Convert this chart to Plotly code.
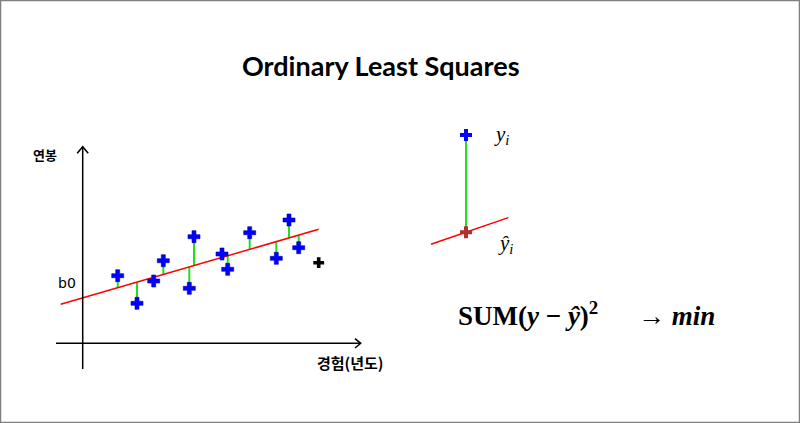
import plotly.graph_objects as go

# ---- data (diagram units: experience on x, salary on y) ----
experience = [3.50, 5.43, 7.10, 8.06, 11.13, 10.66, 13.93, 14.50, 16.70, 19.36, 20.63, 21.60]
salary     = [6.76, 4.00, 6.23, 8.26, 10.66, 5.50, 8.93, 7.40, 11.06, 8.50, 12.33, 9.56]
new_x, new_y = [23.60], [8.06]
b0, b1 = 4.54, 0.2907
line_x = [-2.2, 23.6]

# right-hand illustration of one residual
ex_x = [38.33]
ex_y = [20.83]
ex_line_x = [34.83, 42.56]
ex_b0, ex_b1 = -2.07, 0.344

# axis extents of the left sketch
x_axis_span = [-2.67, 27.8]
y_axis_span = [-2.57, 19.66]

W, H = 800, 423
PX = 10.0                 # pixels per diagram unit
ORIGIN = (82.7, 343.3)    # pixel position of the sketch origin

fig = go.Figure()

def fit(b0_, b1_, xs):
    return [b0_ + b1_ * x for x in xs]

# residual segments (green)
for x, y in zip(experience, salary):
    yh = b0 + b1 * x
    fig.add_trace(go.Scatter(x=[x, x], y=[y, yh], mode="lines",
                             line=dict(color="#22dd22", width=2), hoverinfo="skip"))

# regression line
fig.add_trace(go.Scatter(x=line_x, y=fit(b0, b1, line_x), mode="lines",
                         line=dict(color="#ff0000", width=1.5), hoverinfo="skip"))

# observed points
fig.add_trace(go.Scatter(x=experience, y=salary, mode="markers",
                         marker=dict(symbol="cross", size=10, color="#0000ff",
                                     line=dict(width=0.6, color="#0000aa")),
                         hoverinfo="skip"))
fig.add_trace(go.Scatter(x=new_x, y=new_y, mode="markers",
                         marker=dict(symbol="cross", size=9, color="#000000"),
                         hoverinfo="skip"))

# right illustration
ex_yhat = fit(ex_b0, ex_b1, ex_x)
fig.add_trace(go.Scatter(x=[ex_x[0], ex_x[0]], y=[ex_y[0], ex_yhat[0]], mode="lines",
                         line=dict(color="#22dd22", width=2), hoverinfo="skip"))
fig.add_trace(go.Scatter(x=ex_line_x, y=fit(ex_b0, ex_b1, ex_line_x), mode="lines",
                         line=dict(color="#ff0000", width=1.5), hoverinfo="skip"))
fig.add_trace(go.Scatter(x=ex_x, y=ex_y, mode="markers",
                         marker=dict(symbol="cross", size=10, color="#0000ff"), hoverinfo="skip"))
fig.add_trace(go.Scatter(x=ex_x, y=ex_yhat, mode="markers",
                         marker=dict(symbol="cross", size=10, color="#b03030"), hoverinfo="skip"))

# sketch axes with open arrow heads
ax_style = dict(color="black", width=1.5)
fig.add_shape(type="line", x0=x_axis_span[0], x1=x_axis_span[1], y0=0, y1=0, line=ax_style)
fig.add_shape(type="line", x0=0, x1=0, y0=y_axis_span[0], y1=y_axis_span[1], line=ax_style)
xe, ye = x_axis_span[1], y_axis_span[1]
fig.add_shape(type="path", path=f"M{xe-0.57},{0.47} L{xe},0 L{xe-0.57},{-0.47}", line=ax_style)
fig.add_shape(type="path", path=f"M{-0.55},{ye-0.66} L0,{ye} L{0.55},{ye-0.66}", line=ax_style)

# frame
fig.add_shape(type="rect", xref="paper", yref="paper", x0=0, x1=1, y0=0, y1=1,
              line=dict(color="#808080", width=2.5))

def px2x(p):
    return (p - ORIGIN[0]) / PX

def py2y(p):
    return (ORIGIN[1] - p) / PX

kr = "Noto Sans CJK KR"
anns = [
    dict(x=381 / W, y=1 - 65 / H, xref="paper", yref="paper", xanchor="center", yanchor="middle",
         text="<b>Ordinary Least Squares</b>",
         font=dict(family="Lato", size=27, color="black")),
    dict(x=px2x(45), y=py2y(154), text="<b>연봉</b>", font=dict(family=kr, size=13, color="black")),
    dict(x=px2x(350), y=py2y(362), text="<b>경험(년도)</b>", font=dict(family=kr, size=15, color="black")),
    dict(x=px2x(67), y=py2y(283), text="b0", font=dict(family="DejaVu Sans", size=14, color="black")),
    dict(x=px2x(492), y=py2y(135), xanchor="left", text="<i>y</i><sub><i>i</i></sub>",
         font=dict(family="Liberation Serif", size=21, color="black")),
    dict(x=px2x(496), y=py2y(244), xanchor="left", text="<i>ŷ</i><sub><i>i</i></sub>",
         font=dict(family="Liberation Serif", size=21, color="black")),
    dict(x=px2x(456), y=py2y(314), xanchor="left",
         text="<b>SUM(<i>y</i> − <i>ŷ</i>)<sup>2</sup></b>",
         font=dict(family="Liberation Serif", size=27, color="black")),
    dict(x=px2x(636), y=py2y(316), xanchor="left",
         text="→ <b><i>min</i></b>",
         font=dict(family="Liberation Serif", size=27, color="black")),
]
for a in anns:
    a.setdefault("xref", "x")
    a.setdefault("yref", "y")
    a["showarrow"] = False
    fig.add_annotation(**a)

fig.update_layout(
    width=W, height=H, margin=dict(l=0, r=0, t=0, b=0),
    paper_bgcolor="white", plot_bgcolor="white", showlegend=False,
    xaxis=dict(range=[px2x(0), px2x(W)], visible=False, fixedrange=True),
    yaxis=dict(range=[py2y(H), py2y(0)], visible=False, fixedrange=True),
)
fig.write_html("out.html", config={"displayModeBar": False},
               post_script="document.body.style.margin='0';document.body.style.padding='0';")
